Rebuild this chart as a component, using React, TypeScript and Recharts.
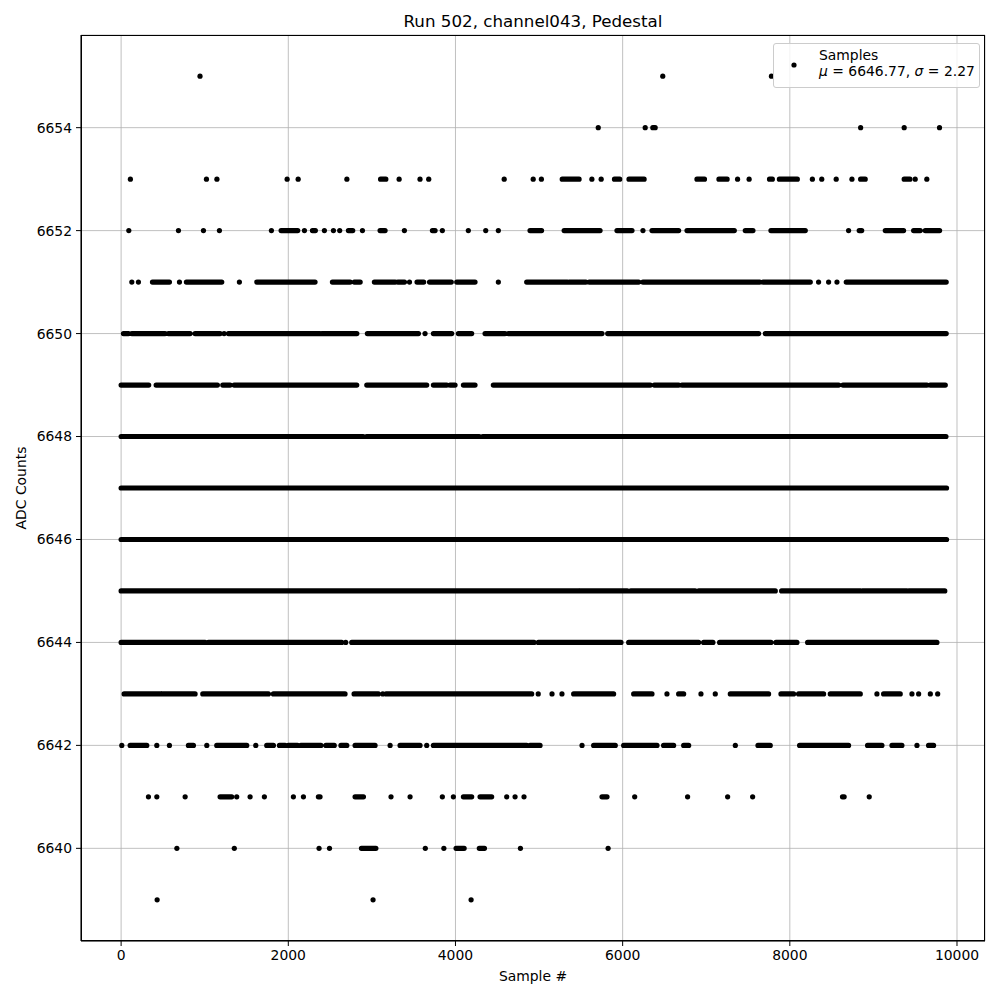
// Pedestal scatter, channel043 – ADC counts vs sample index
import { ComposedChart, Line, Scatter, XAxis, YAxis, CartesianGrid, Legend } from 'recharts';

const X_TICKS = [0, 2000, 4000, 6000, 8000, 10000];
const Y_TICKS = [6640, 6642, 6644, 6646, 6648, 6650, 6652, 6654];
const X_DOMAIN = [-480, 10335];
const Y_DOMAIN = [6638.2, 6655.8];

// sample runs per ADC level: [first, last]; first === last is a lone sample
type Run = [number, number];
const adc6655: Run[] = [[944, 944], [6480, 6480], [7780, 7780]];
const adc6654: Run[] = [[5708, 5708], [6270, 6270], [6361, 6389], [8847, 8847], [9368, 9368], [9791, 9791]];
const adc6653: Run[] = [[111, 111], [1021, 1021], [1146, 1146], [1986, 1986], [2118, 2118], [2701, 2701], [3104, 3167], [3326, 3326], [3576, 3576], [3680, 3680], [4583, 4583], [4930, 4930], [5028, 5028], [5277, 5479], [5632, 5632], [5743, 5743], [5902, 5965], [6076, 6257], [6889, 6979], [7152, 7250], [7375, 7375], [7513, 7513], [7757, 7791], [7875, 8090], [8270, 8270], [8382, 8382], [8555, 8555], [8743, 8743], [8847, 8902], [9368, 9437], [9500, 9500], [9639, 9639]];
const adc6652: Run[] = [[92, 92], [686, 686], [985, 985], [1176, 1176], [1798, 1798], [1914, 2113], [2193, 2193], [2289, 2324], [2432, 2432], [2540, 2540], [2615, 2615], [2719, 2771], [2887, 2887], [3098, 3158], [3389, 3389], [3724, 3756], [3843, 3843], [4154, 4154], [4362, 4362], [4513, 4513], [4892, 5030], [5300, 5730], [5932, 6112], [6243, 6243], [6351, 6670], [6770, 7336], [7467, 7559], [7774, 8185], [8703, 8703], [8830, 8860], [9142, 9361], [9481, 9560], [9620, 9792]];
const adc6651: Run[] = [[128, 128], [207, 207], [375, 578], [698, 698], [781, 1204], [1415, 1415], [1623, 2320], [2528, 2740], [2790, 2860], [3030, 3280], [3310, 3390], [3450, 3450], [3540, 3620], [3690, 3950], [4015, 4234], [4513, 4513], [4852, 5340], [5360, 5560], [5600, 6191], [6243, 7640], [7680, 8245], [8344, 8344], [8464, 8464], [8564, 8564], [8675, 9871]];
const adc6650: Run[] = [[28, 88], [128, 526], [566, 825], [885, 1184], [1232, 1232], [1284, 2380], [2400, 2820], [2946, 3557], [3636, 3636], [3736, 3955], [4035, 4194], [4354, 4593], [4633, 5753], [5821, 7627], [7707, 9871]];
const adc6649: Run[] = [[0, 330], [419, 1152], [1216, 1304], [1352, 2819], [2939, 3656], [3736, 3895], [3935, 3995], [4095, 4234], [4453, 6331], [6379, 6670], [6710, 8584], [8636, 9640], [9680, 9860]];
const adc6648: Run[] = [[0, 2896], [2937, 4285], [4326, 9868]];
const adc6647: Run[] = [[0, 9875]];
const adc6646: Run[] = [[0, 9875]];
const adc6645: Run[] = [[0, 5465], [5493, 6055], [6097, 6868], [6910, 7826], [7902, 8847], [8868, 9402], [9423, 9854]];
const adc6644: Run[] = [[0, 1005], [1045, 2639], [2687, 2687], [2759, 4940], [4992, 5980], [6072, 6909], [6969, 7080], [7160, 7774], [7834, 8085], [8213, 9760]];
const adc6643: Run[] = [[36, 466], [494, 885], [977, 1762], [1822, 2679], [2787, 3078], [3130, 3130], [3170, 4912], [4990, 4990], [5155, 5155], [5274, 5274], [5414, 5892], [6132, 6351], [6530, 6530], [6670, 6730], [6937, 6937], [7108, 7108], [7288, 7746], [7894, 8045], [8105, 8404], [8484, 8843], [9042, 9042], [9122, 9321], [9461, 9461], [9541, 9541], [9681, 9681], [9769, 9769]];
const adc6642: Run[] = [[8, 8], [108, 307], [427, 427], [578, 578], [805, 865], [1025, 1025], [1144, 1503], [1611, 1611], [1742, 1822], [1894, 1962], [2001, 2110], [2150, 2390], [2450, 2550], [2630, 2700], [2799, 3038], [3218, 3218], [3337, 3576], [3656, 3656], [3736, 4852], [4892, 5012], [5514, 5514], [5653, 5912], [6012, 6411], [6490, 6610], [6730, 6790], [7348, 7348], [7619, 7766], [8117, 8703], [8930, 9102], [9222, 9341], [9521, 9521], [9660, 9720]];
const adc6641: Run[] = [[327, 327], [427, 427], [766, 766], [1184, 1323], [1383, 1383], [1543, 1543], [1714, 1714], [2061, 2061], [2181, 2181], [2360, 2380], [2799, 2899], [3229, 3229], [3457, 3457], [3843, 3843], [3975, 3975], [4095, 4194], [4294, 4433], [4613, 4613], [4713, 4713], [4820, 4820], [5753, 5813], [6144, 6144], [6777, 6777], [7256, 7256], [7555, 7555], [8630, 8650], [8950, 8950]];
const adc6640: Run[] = [[667, 667], [1354, 1354], [2368, 2368], [2493, 2493], [2875, 3048], [3639, 3639], [3861, 3861], [4007, 4104], [4285, 4347], [4777, 4777], [5826, 5826]];
const adc6639: Run[] = [[431, 431], [3014, 3014], [4187, 4187]];

const ROWS: [number, Run[]][] = [
  [6655, adc6655], [6654, adc6654], [6653, adc6653], [6652, adc6652], [6651, adc6651],
  [6650, adc6650], [6649, adc6649], [6648, adc6648], [6647, adc6647], [6646, adc6646],
  [6645, adc6645], [6644, adc6644], [6643, adc6643], [6642, adc6642], [6641, adc6641],
  [6640, adc6640], [6639, adc6639],
];

// lone samples go to the scatter, dense runs are drawn as a thick round-capped line
const lone = ROWS.flatMap(([lvl, runs]) => runs.filter(r => r[0] === r[1]).map(r => ({ x: r[0], y: lvl })));
const bands = ROWS.map(([lvl, runs]) => ({
  lvl,
  data: runs.filter(r => r[1] > r[0]).flatMap(r => [{ x: r[0], y: lvl }, { x: r[1], y: lvl }, { x: r[1], y: null }]),
})).filter(b => b.data.length > 0);

const FONT = '"DejaVu Sans", sans-serif';
const tickStyle = { fontSize: 13.9, fill: '#000', fontFamily: FONT };

function SampleLegend() {
  return (
    <div style={{ position: 'relative', width: 207, height: 45, boxSizing: 'border-box', border: '1px solid #cccccc', borderRadius: 3, background: 'rgba(255,255,255,0.8)', fontFamily: FONT, fontSize: 13.9, color: '#000' }}>
      <svg width={8} height={8} style={{ position: 'absolute', left: 16, top: 17 }}>
        <circle cx={4} cy={4} r={2.6} fill="#000" />
      </svg>
      <div style={{ position: 'absolute', left: 45, top: 3, lineHeight: '16px', whiteSpace: 'nowrap' }}>
        Samples<br /><i>μ</i> = 6646.77, <i>σ</i> = 2.27
      </div>
    </div>
  );
}

export default function App() {
  return (
    <div style={{ position: 'absolute', left: 0, top: 0, width: 1000, height: 1000, background: '#fff', fontFamily: FONT }}>
      <ComposedChart width={1000} height={1000} margin={{ top: 35, right: 15, bottom: 29, left: 21 }}>
        <CartesianGrid stroke="#b0b0b0" strokeWidth={0.8} />
        <XAxis type="number" dataKey="x" domain={X_DOMAIN} ticks={X_TICKS} allowDataOverflow interval={0}
          height={30} tick={tickStyle} tickSize={5} tickMargin={4} stroke="#000" tickLine={{ stroke: '#000' }} />
        <YAxis type="number" dataKey="y" domain={Y_DOMAIN} ticks={Y_TICKS} allowDataOverflow interval={0}
          width={60} tick={tickStyle} tickSize={5} tickMargin={4} stroke="#000" tickLine={{ stroke: '#000' }} />
        {bands.map(b => (
          <Line key={b.lvl} data={b.data} dataKey="y" stroke="#000" strokeWidth={5.2} strokeLinecap="round"
            dot={false} activeDot={false} connectNulls={false} legendType="none" isAnimationActive={false} />
        ))}
        <Scatter data={lone} fill="#000" legendType="none" isAnimationActive={false}
          shape={(p: any) => <circle cx={p.cx} cy={p.cy} r={2.6} fill="#000" />} />
        <Legend layout="horizontal" verticalAlign="middle" align="center" content={() => <SampleLegend />}
          wrapperStyle={{ top: 43, left: 773, width: 207 }} />
      </ComposedChart>
      <div style={{ position: 'absolute', left: 81, top: 35, width: 904, height: 906, boxSizing: 'border-box', border: '1px solid #000', pointerEvents: 'none' }} />
      <div style={{ position: 'absolute', left: 81, width: 904, top: 11, textAlign: 'center', fontSize: 16.7, color: '#000' }}>
        Run 502, channel043, Pedestal
      </div>
      <div style={{ position: 'absolute', left: 81, width: 904, top: 968, textAlign: 'center', fontSize: 13.9, color: '#000' }}>
        Sample #
      </div>
      <div style={{ position: 'absolute', left: 21, top: 488, fontSize: 13.9, color: '#000', whiteSpace: 'nowrap', transform: 'translate(-50%, -50%) rotate(-90deg)' }}>
        ADC Counts
      </div>
    </div>
  );
}
